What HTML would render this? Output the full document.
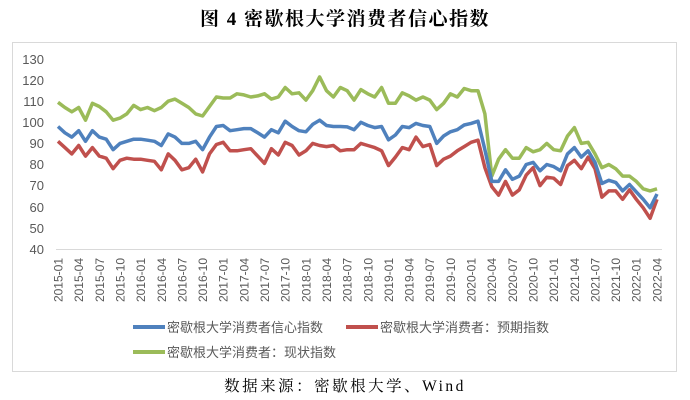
<!DOCTYPE html>
<html><head><meta charset="utf-8"><style>
body{margin:0;background:#fff;width:690px;height:400px;overflow:hidden}
svg{position:absolute;left:0;top:0}
</style></head><body>
<svg width="690" height="400" xmlns="http://www.w3.org/2000/svg">
<text x="345" y="25" text-anchor="middle" font-family="Liberation Serif,'Noto Serif CJK SC',serif" font-size="19" font-weight="bold" letter-spacing="1.5" fill="#000">图 4  密歇根大学消费者信心指数</text>
<rect x="12.5" y="42.5" width="664" height="329" fill="none" stroke="#d9d9d9"/>
<line x1="56" y1="249.5" x2="662" y2="249.5" stroke="#d9d9d9"/>
<g font-family="Liberation Sans,sans-serif" font-size="13" fill="#595959" text-anchor="end">
<text x="44" y="64">130</text><text x="44" y="85">120</text><text x="44" y="106">110</text><text x="44" y="127">100</text><text x="44" y="148">90</text><text x="44" y="169">80</text><text x="44" y="190">70</text><text x="44" y="212">60</text><text x="44" y="233">50</text><text x="44" y="254">40</text>
</g>
<g id="lines" fill="none" stroke-width="3.5" stroke-linejoin="round"></g>
<line x1="133" y1="327" x2="165" y2="327" stroke="#4f81bd" stroke-width="4"/>
<line x1="346" y1="327" x2="378" y2="327" stroke="#c0504d" stroke-width="4"/>
<line x1="133" y1="352" x2="165" y2="352" stroke="#9bbb59" stroke-width="4"/>
<g font-family="Liberation Sans,'Noto Sans CJK SC',sans-serif" font-size="13" fill="#595959">
<text x="167" y="332">密歇根大学消费者信心指数</text>
<text x="380" y="332">密歇根大学消费者：预期指数</text>
<text x="167" y="357">密歇根大学消费者：现状指数</text>
</g>
<text x="345" y="391" text-anchor="middle" font-family="Liberation Serif,'Noto Serif CJK SC',serif" font-size="15.5" letter-spacing="2.5" fill="#000">数据来源：密歇根大学、Wind</text>
<g font-family="Liberation Sans,sans-serif" font-size="12" fill="#595959" text-anchor="end">
<text transform="translate(62.5,258) rotate(-90)">2015-01</text>
<text transform="translate(83.2,258) rotate(-90)">2015-04</text>
<text transform="translate(103.8,258) rotate(-90)">2015-07</text>
<text transform="translate(124.5,258) rotate(-90)">2015-10</text>
<text transform="translate(145.1,258) rotate(-90)">2016-01</text>
<text transform="translate(165.8,258) rotate(-90)">2016-04</text>
<text transform="translate(186.4,258) rotate(-90)">2016-07</text>
<text transform="translate(207.1,258) rotate(-90)">2016-10</text>
<text transform="translate(227.7,258) rotate(-90)">2017-01</text>
<text transform="translate(248.4,258) rotate(-90)">2017-04</text>
<text transform="translate(269.0,258) rotate(-90)">2017-07</text>
<text transform="translate(289.7,258) rotate(-90)">2017-10</text>
<text transform="translate(310.3,258) rotate(-90)">2018-01</text>
<text transform="translate(331.0,258) rotate(-90)">2018-04</text>
<text transform="translate(351.6,258) rotate(-90)">2018-07</text>
<text transform="translate(372.3,258) rotate(-90)">2018-10</text>
<text transform="translate(392.9,258) rotate(-90)">2019-01</text>
<text transform="translate(413.6,258) rotate(-90)">2019-04</text>
<text transform="translate(434.2,258) rotate(-90)">2019-07</text>
<text transform="translate(454.9,258) rotate(-90)">2019-10</text>
<text transform="translate(475.5,258) rotate(-90)">2020-01</text>
<text transform="translate(496.2,258) rotate(-90)">2020-04</text>
<text transform="translate(516.8,258) rotate(-90)">2020-07</text>
<text transform="translate(537.5,258) rotate(-90)">2020-10</text>
<text transform="translate(558.1,258) rotate(-90)">2021-01</text>
<text transform="translate(578.8,258) rotate(-90)">2021-04</text>
<text transform="translate(599.4,258) rotate(-90)">2021-07</text>
<text transform="translate(620.1,258) rotate(-90)">2021-10</text>
<text transform="translate(640.7,258) rotate(-90)">2022-01</text>
<text transform="translate(661.4,258) rotate(-90)">2022-04</text>
</g>
</svg>
<script>
var B=[98,95,93,96,91,96,93,92,87,90,91,92,92,91.5,91,89,94.5,93,90,90,91,87,93,98,98.5,96,96.5,97,97,95,93,96.5,95,100.5,98,96,95.5,99,101,98.5,98,98,97.8,96.5,100,98.5,97.5,98,91.7,94,98,97.5,99.5,98.5,98,90,93.5,95.5,96.5,98.7,99.5,100.5,87,72,72,77.5,73,74.5,80,81,77,80,79,77,85,88,83.5,86.5,81,71,72.5,71.5,67.5,70.5,67,63.5,59.5,66];
var R=[91,88,85,89,84,88,84,83,78,82,83,82.5,82.5,82,81.5,77.5,85,82,77.5,78.5,82.5,76.5,85,89.5,90.5,86.5,86.5,87,87.5,84,80.5,87.5,84.5,90.5,89,84.5,86.5,90,89,88.5,89,86.5,87,87,90,89,88,86.5,79.5,83.5,88,87,93,88.5,89.5,79.5,82.5,84,86.5,88.5,90.5,91.5,78.5,69.5,65.5,72,65.5,68,75,78.5,70,74,73.5,70.5,79.5,82,78,83.5,78,64.5,67.5,67.5,63.5,68,63.5,59.5,54.5,63.5];
var G=[109.5,107,105,107,101,109,107.5,105,101,102,104,108,106,107,105.5,107,110,111,109,107,104,103,107.5,112,111.5,111.5,113.5,113,112,112.5,113.5,111,112,116.5,113.5,114,110.5,115,121.5,115,112,116.5,115,110.5,115.5,113.5,112,116.5,109,109,114,112.5,110.5,112,110.5,106,109,113.5,112,116,115,115,104,74.5,82.5,87,83,83,88,86,87,90,87,86.5,93.5,97.5,90,90.5,85,78.5,80,78,74.5,74.5,72,68.5,67.5,68.5];
function pts(a){return a.map(function(v,i){return (58+6.885*i).toFixed(1)+","+(59+(130-v)*2.11).toFixed(1)}).join(" ")}
var g=document.getElementById("lines");
[[G,"#9bbb59"],[R,"#c0504d"],[B,"#4f81bd"]].forEach(function(s){
var p=document.createElementNS("http://www.w3.org/2000/svg","polyline");
p.setAttribute("points",pts(s[0]));p.setAttribute("stroke",s[1]);g.appendChild(p);});
</script>
</body></html>
